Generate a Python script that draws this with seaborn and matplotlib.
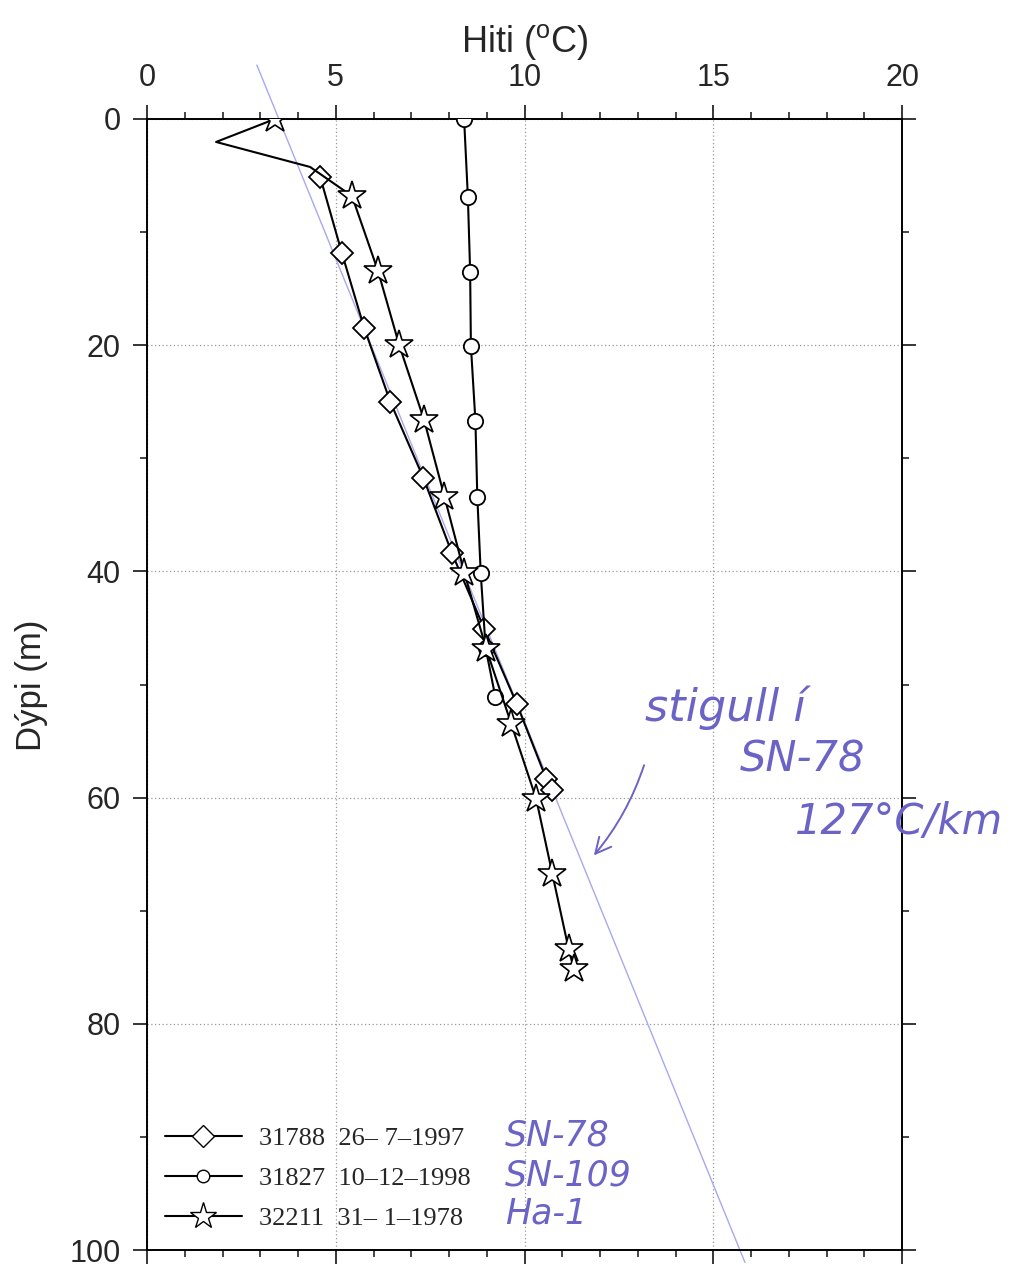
import matplotlib
matplotlib.use("Agg")
import matplotlib.pyplot as plt
from matplotlib.lines import Line2D
import seaborn as sns
import numpy as np
import pandas as pd

# ---------------- data ----------------
# 31788 (26-7-1997)  diamonds
d1_temp = [4.59, 5.16, 5.75, 6.45, 7.32, 8.08, 8.94, 9.80, 10.58, 10.74]
d1_depth = [5.15, 11.82, 18.44, 25.05, 31.72, 38.40, 45.12, 51.75, 58.36, 59.33]

# 31827 (10-12-1998)  circles
d2_temp = [8.40, 8.50, 8.56, 8.58, 8.70, 8.75, 8.84, 8.97, 9.23]
d2_depth = [0.0, 6.87, 13.50, 20.05, 26.70, 33.40, 40.11, 46.77, 51.13]

# 32211 (31-1-1978)  stars (points 1 and 2 are unmarked)
d3_temp = [3.39, 1.83, 4.32, 5.43, 6.12, 6.68, 7.34, 7.88, 8.41, 8.99, 9.65,
           10.31, 10.74, 11.17, 11.31]
d3_depth = [0.0, 2.03, 4.24, 6.81, 13.44, 19.98, 26.61, 33.40, 40.17, 46.89,
            53.49, 60.12, 66.78, 73.41, 75.15]
d3_marked = [0, 3, 4, 5, 6, 7, 8, 9, 10, 11, 12, 13, 14]

# hand-drawn gradient line (temperature, depth) end points
grad_temp = [2.91, 15.84]
grad_depth = [-4.77, 101.1]

legend_labels = ["31788  26\u2013 7\u20131997",
                 "31827  10\u201312\u20131998",
                 "32211  31\u2013 1\u20131978"]
hand_legend = ["SN-78", "SN-109", "Ha-1"]

x_ticks = [0, 5, 10, 15, 20]
y_ticks = [0, 20, 40, 60, 80, 100]

# ---------------- style ----------------
sns.set_style("ticks")
plt.rcParams["font.family"] = ["Liberation Sans", "DejaVu Sans"]
plt.rcParams["mathtext.fontset"] = "custom"
plt.rcParams["mathtext.rm"] = "Liberation Sans"

W, H = 1033, 1275
fig = plt.figure(figsize=(W / 100, H / 100), dpi=100)
ax = fig.add_axes([147 / W, 1 - 1250 / H, 755 / W, 1131 / H])

ink = "#6b63c6"

# gradient line
ax.plot(grad_temp, grad_depth, color="#a8a8f0", lw=1.0, clip_on=False, zorder=1)

lw = 1.5
df1 = pd.DataFrame({"T": d1_temp, "z": d1_depth})
df2 = pd.DataFrame({"T": d2_temp, "z": d2_depth})
df3 = pd.DataFrame({"T": d3_temp, "z": d3_depth})

sns.lineplot(data=df1, x="T", y="z", sort=False, estimator=None, ax=ax,
             color="black", lw=lw, marker="D", markersize=11.5,
             markerfacecolor="white", markeredgecolor="black",
             markeredgewidth=1.3, zorder=3)
sns.lineplot(data=df2, x="T", y="z", sort=False, estimator=None, ax=ax,
             color="black", lw=lw, marker="o", markersize=11,
             markerfacecolor="white", markeredgecolor="black",
             markeredgewidth=1.3, zorder=3)
sns.lineplot(data=df3, x="T", y="z", sort=False, estimator=None, ax=ax,
             color="black", lw=lw, marker="*", markersize=21,
             markevery=d3_marked,
             markerfacecolor="white", markeredgecolor="black",
             markeredgewidth=1.2, zorder=3)

# ---------------- axes ----------------
ax.set_xlim(0, 20)
ax.set_ylim(100, 0)
ax.set_xticks(x_ticks)
ax.set_xticks(np.arange(0, 21, 1), minor=True)
ax.set_yticks(y_ticks)
ax.set_yticks(np.arange(0, 101, 10), minor=True)
ax.set_xticklabels([str(v) for v in x_ticks])
ax.set_yticklabels([str(v) for v in y_ticks])

ax.tick_params(axis="x", which="both", top=True, bottom=True,
               labeltop=True, labelbottom=False, direction="out")
ax.tick_params(axis="y", which="both", left=True, right=True,
               labelleft=True, labelright=False, direction="out")
ax.tick_params(which="major", length=10, width=1.3, labelsize=22, pad=9)
ax.tick_params(which="minor", length=5, width=1.2)
for s in ax.spines.values():
    s.set_visible(True)
    s.set_linewidth(1.4)
    s.set_color("black")

ax.grid(which="major", ls=(0, (1, 2)), color="#999999", lw=0.9)
ax.set_axisbelow(True)

ax.set_xlabel("")
ax.set_ylabel("")
fig.text(525 / W, 1 - 42 / H, r"Hiti ($\mathregular{^o}$C)", fontsize=26,
         ha="center", va="center")
fig.text(32 / W, 1 - 685 / H, "D\u00fdpi (m)", fontsize=25, rotation=90,
         ha="center", va="center")

# ---------------- legend ----------------
handles = [
    Line2D([], [], color="black", lw=lw, marker="D", markersize=11,
           markerfacecolor="white", markeredgecolor="black"),
    Line2D([], [], color="black", lw=lw, marker="o", markersize=9,
           markerfacecolor="white", markeredgecolor="black"),
    Line2D([], [], color="black", lw=lw, marker="*", markersize=20,
           markerfacecolor="white", markeredgecolor="black"),
]
leg = ax.legend(handles, legend_labels, loc="upper left",
                bbox_to_anchor=(165 / W, 1 - 1127 / H),
                bbox_transform=fig.transFigure, frameon=False,
                borderpad=0, borderaxespad=0, handlelength=2.9,
                handletextpad=0.65, labelspacing=0.62,
                prop={"family": "Liberation Serif", "size": 19})

hand_kw = dict(color=ink, fontsize=25, style="italic",
               family="DejaVu Sans", weight="light", va="center", ha="left")
for i, t in enumerate(hand_legend):
    fig.text(505 / W, 1 - (1136 + 39 * i) / H, t, **hand_kw)

fig.text(645 / W, 1 - 708 / H, "stigull \u00ed", **{**hand_kw, "fontsize": 32})
fig.text(740 / W, 1 - 760 / H, "SN-78", **{**hand_kw, "fontsize": 30})
fig.text(795 / W, 1 - 822 / H, "127\u00b0C/km", **{**hand_kw, "fontsize": 30})

ax.annotate("", xy=(11.79, 65.3), xytext=(13.19, 56.9),
            arrowprops=dict(arrowstyle="->", color=ink, lw=1.4,
                            connectionstyle="arc3,rad=-0.1",
                            mutation_scale=28))

fig.savefig("out.png", dpi=100)
